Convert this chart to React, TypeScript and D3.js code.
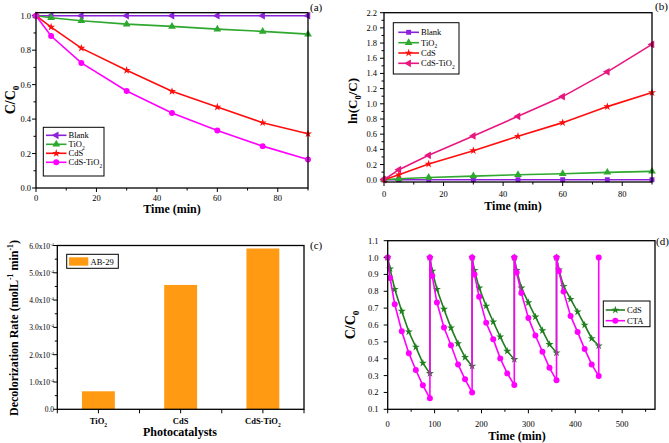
import React from 'react';
import * as d3 from 'd3';

const FONT = '"Liberation Serif", "Times New Roman", Times, serif';

// ---------- Panel (a): C/C0 vs time ----------
const timeA = [0, 5, 15, 30, 45, 60, 75, 90];
const blankA = [1.0, 1.0, 1.0, 1.0, 1.0, 1.0, 1.0, 1.0];
const tio2A = [1.0, 0.988, 0.971, 0.951, 0.938, 0.922, 0.909, 0.893];
const cdsA = [1.0, 0.934, 0.812, 0.683, 0.561, 0.47, 0.379, 0.315];
const cdsTio2A = [1.0, 0.882, 0.726, 0.563, 0.435, 0.334, 0.243, 0.165];
const ticksA_x = [0, 20, 40, 60, 80];
const ticksA_y = [0.0, 0.2, 0.4, 0.6, 0.8, 1.0];

// ---------- Panel (b): ln(C0/C) vs time ----------
const blankB = [0, 0, 0, 0, 0, 0, 0, 0];
const tio2B = [0, 0.013, 0.03, 0.048, 0.066, 0.079, 0.097, 0.11];
const cdsB = [0, 0.066, 0.207, 0.383, 0.572, 0.752, 0.963, 1.148];
const cdsTio2B = [0, 0.132, 0.321, 0.576, 0.836, 1.095, 1.421, 1.782];
const ticksB_y = [0.0, 0.2, 0.4, 0.6, 0.8, 1.0, 1.2, 1.4, 1.6, 1.8, 2.0, 2.2];

// ---------- Panel (c): decolorization rate ----------
const catsC = ['TiO2', 'CdS', 'CdS-TiO2'];
const ratesC = [6.6e-5, 4.555e-4, 5.89e-4];
const ticksC_y = [0, 1e-4, 2e-4, 3e-4, 4e-4, 5e-4, 6e-4];
const ticksC_labels = ['0.0', '1.0', '2.0', '3.0', '4.0', '5.0', '6.0'];

// ---------- Panel (d): recycling ----------
const timeD = [
  0, 5, 15, 30, 45, 60, 75, 90,
  90, 95, 105, 120, 135, 150, 165, 180,
  180, 185, 195, 210, 225, 240, 255, 270,
  270, 275, 285, 300, 315, 330, 345, 360,
  360, 365, 375, 390, 405, 420, 435, 450,
  450,
];
const ctaD = [
  1.0, 0.879, 0.723, 0.563, 0.433, 0.333, 0.242, 0.165,
  1.0, 0.89, 0.733, 0.585, 0.48, 0.366, 0.278, 0.2,
  1.0, 0.9, 0.767, 0.613, 0.516, 0.402, 0.313, 0.244,
  1.0, 0.911, 0.79, 0.642, 0.538, 0.441, 0.346, 0.272,
  1.0, 0.92, 0.798, 0.654, 0.558, 0.457, 0.366, 0.297,
  1.0,
];
const timeD_cds = [
  0, 5, 15, 30, 45, 60, 75, 90,
  90, 95, 105, 120, 135, 150, 165, 180,
  180, 185, 195, 210, 225, 240, 255, 270,
  270, 275, 285, 300, 315, 330, 345, 360,
  360, 365, 375, 390, 405, 420, 435, 450,
];
const cdsD = [
  1.0, 0.934, 0.812, 0.682, 0.56, 0.469, 0.374, 0.313,
  1.0, 0.92, 0.812, 0.694, 0.583, 0.49, 0.408, 0.356,
  1.0, 0.924, 0.82, 0.713, 0.619, 0.53, 0.445, 0.396,
  1.0, 0.924, 0.82, 0.733, 0.648, 0.567, 0.485, 0.435,
  1.0, 0.928, 0.83, 0.753, 0.678, 0.6, 0.52, 0.477,
];
const ticksD_x = [0, 100, 200, 300, 400, 500];
const ticksD_y = [0.1, 0.2, 0.3, 0.4, 0.5, 0.6, 0.7, 0.8, 0.9, 1.0, 1.1];

const PURPLE = '#8B22D9';
const GREEN = '#2EA82E';
const RED = '#FF0D0D';
const MAGENTA = '#FF00FF';
const PINK = '#E8177F';
const DKGREEN = '#1F7F1F';
const ORANGE = '#FF9A12';

type Part = { t: string; s?: 'sub' | 'sup' };

function Rich({ parts, fs, ...rest }: { parts: Part[]; fs: number; [k: string]: any }) {
  let cur = 0;
  return (
    <text fontSize={fs} fontFamily={FONT} {...rest}>
      {parts.map((p, i) => {
        const target = p.s === 'sub' ? fs * 0.3 : p.s === 'sup' ? -fs * 0.4 : 0;
        const dy = target - cur;
        cur = target;
        return (
          <tspan key={i} dy={dy} fontSize={p.s ? fs * 0.65 : fs}>
            {p.t}
          </tspan>
        );
      })}
    </text>
  );
}

function nameParts(n: string): Part[] {
  if (n.endsWith('TiO2')) return [{ t: n.slice(0, -1) }, { t: '2', s: 'sub' }];
  return [{ t: n }];
}

type Sym = 'square' | 'triUp' | 'triLeft' | 'star' | 'circle';
function marker(sym: Sym, x: number, y: number, color: string, key?: any) {
  const typeMap: any = {
    square: d3.symbolSquare,
    triUp: d3.symbolTriangle,
    triLeft: d3.symbolTriangle,
    star: d3.symbolStar,
    circle: d3.symbolCircle,
  };
  const size = sym === 'star' ? 20 : sym === 'circle' ? 28 : sym === 'square' ? 24 : 26;
  const p = d3.symbol().type(typeMap[sym]).size(size)() as string;
  const rot = sym === 'triLeft' ? -90 : 0;
  return <path key={key} d={p} transform={`translate(${x},${y}) rotate(${rot})`} fill={color} />;
}

type Series = { name: string; xs: number[]; ys: number[]; color: string; sym: Sym };

function LineSeries({ s, x, y, lw }: { s: Series; x: any; y: any; lw: number }) {
  const pts: [number, number][] = s.xs.map((v, i) => [x(v), y(s.ys[i])]);
  const line = d3.line()(pts) as string;
  return (
    <g>
      <path d={line} fill="none" stroke={s.color} strokeWidth={lw} />
      {pts.map((p, i) => marker(s.sym, p[0], p[1], s.color, i))}
    </g>
  );
}

function Frame({ x0, x1, y0, y1 }: any) {
  return <rect x={x0} y={y0} width={x1 - x0} height={y1 - y0} fill="none" stroke="#000" strokeWidth={1.3} />;
}

function XTicks({ x, yb, major, minor, labels, labelY, fs = 8.5 }: any) {
  return (
    <g>
      {minor.map((v: number, i: number) => (
        <line key={'m' + i} x1={x(v)} x2={x(v)} y1={yb} y2={yb + 2.5} stroke="#000" strokeWidth={1} />
      ))}
      {major.map((v: number, i: number) => (
        <g key={'M' + i}>
          <line x1={x(v)} x2={x(v)} y1={yb} y2={yb + 4} stroke="#000" strokeWidth={1} />
          {labels && (
            <text x={x(v)} y={labelY} textAnchor="middle" fontSize={fs} fontFamily={FONT}>
              {labels[i]}
            </text>
          )}
        </g>
      ))}
    </g>
  );
}

function YTicks({ y, xl, major, minor, labels, labelX, fs = 8.5 }: any) {
  return (
    <g>
      {minor.map((v: number, i: number) => (
        <line key={'m' + i} x1={xl} x2={xl - 2.5} y1={y(v)} y2={y(v)} stroke="#000" strokeWidth={1} />
      ))}
      {major.map((v: number, i: number) => (
        <g key={'M' + i}>
          <line x1={xl} x2={xl - 4} y1={y(v)} y2={y(v)} stroke="#000" strokeWidth={1} />
          {labels && (
            <text x={labelX} y={y(v) + 3} textAnchor="end" fontSize={fs} fontFamily={FONT}>
              {labels[i]}
            </text>
          )}
        </g>
      ))}
    </g>
  );
}

function Legend({ box, items, rows, lx0, lx1, tx, fs = 8.5 }: any) {
  return (
    <g>
      <rect x={box[0]} y={box[1]} width={box[2] - box[0]} height={box[3] - box[1]} fill="#fff" stroke="#000" strokeWidth={1} />
      {items.map((s: Series, i: number) => (
        <g key={i}>
          <line x1={lx0} x2={lx1} y1={rows[i]} y2={rows[i]} stroke={s.color} strokeWidth={1.6} />
          {marker(s.sym, (lx0 + lx1) / 2, rows[i], s.color)}
          <Rich parts={nameParts(s.name)} fs={fs} x={tx} y={rows[i] + 3} />
        </g>
      ))}
    </g>
  );
}

const range = (a: number, b: number, st: number) => d3.range(a, b + st / 2, st);

export default function App() {
  // Panel A
  const xA = d3.scaleLinear().domain([0, 90]).range([36, 308]);
  const yA = d3.scaleLinear().domain([0, 1.0175]).range([188, 12.7]);
  const seriesA: Series[] = [
    { name: 'Blank', xs: timeA, ys: blankA, color: PURPLE, sym: 'triLeft' },
    { name: 'TiO2', xs: timeA, ys: tio2A, color: GREEN, sym: 'triUp' },
    { name: 'CdS', xs: timeA, ys: cdsA, color: RED, sym: 'star' },
    { name: 'CdS-TiO2', xs: timeA, ys: cdsTio2A, color: MAGENTA, sym: 'circle' },
  ];

  // Panel B
  const xB = d3.scaleLinear().domain([0, 90]).range([384, 652]);
  const yB = d3.scaleLinear().domain([-0.03, 2.2]).range([182, 12.7]);
  const seriesB: Series[] = [
    { name: 'Blank', xs: timeA, ys: blankB, color: PURPLE, sym: 'square' },
    { name: 'TiO2', xs: timeA, ys: tio2B, color: GREEN, sym: 'triUp' },
    { name: 'CdS', xs: timeA, ys: cdsB, color: RED, sym: 'star' },
    { name: 'CdS-TiO2', xs: timeA, ys: cdsTio2B, color: PINK, sym: 'triLeft' },
  ];

  // Panel C
  const xC = d3.scaleLinear().domain([0.5, 3.5]).range([57.3, 304]);
  const yC = d3.scaleLinear().domain([0, 6e-4]).range([409.3, 245.5]);

  // Panel D
  const xD = d3.scaleLinear().domain([0, 570]).range([387.7, 655]);
  const yD = d3.scaleLinear().domain([0.1, 1.1]).range([409.3, 240.7]);
  const seriesD: Series[] = [
    { name: 'CdS', xs: timeD_cds, ys: cdsD, color: DKGREEN, sym: 'star' },
    { name: 'CTA', xs: timeD, ys: ctaD, color: MAGENTA, sym: 'circle' },
  ];

  const fmt1 = d3.format('.1f');

  return (
    <svg width={669} height={443} style={{ position: 'absolute', left: 0, top: 0, background: '#fff' }}>
      <rect x={0} y={0} width={669} height={443} fill="#fff" />

      {/* ---------- (a) ---------- */}
      <g>
        <XTicks x={xA} yb={188} major={ticksA_x} minor={range(10, 90, 20)} labels={ticksA_x.map(String)} labelY={201} />
        <YTicks y={yA} xl={36} major={ticksA_y} minor={range(0.1, 0.9, 0.2)} labels={ticksA_y.map(fmt1)} labelX={31} />
        {seriesA.map((s, i) => (
          <LineSeries key={i} s={s} x={xA} y={yA} lw={1.6} />
        ))}
        <Frame x0={36} x1={308} y0={12.7} y1={188} />
        <Legend box={[43.3, 127.3, 104, 176]} items={seriesA} rows={[135.3, 144.3, 153.3, 162.3]} lx0={46} lx1={66.5} tx={68.5} />
        <text x={172} y={213} textAnchor="middle" fontSize={12} fontWeight="bold" fontFamily={FONT}>
          Time (min)
        </text>
        <Rich parts={[{ t: 'C/C' }, { t: '0', s: 'sub' }]} fs={14} fontWeight="bold" textAnchor="middle" transform="translate(15,100) rotate(-90)" />
        <text x={310} y={11} fontSize={11} fontFamily={FONT}>(a)</text>
      </g>

      {/* ---------- (b) ---------- */}
      <g>
        <XTicks x={xB} yb={182} major={ticksA_x} minor={range(10, 90, 20)} labels={ticksA_x.map(String)} labelY={197} />
        <YTicks y={yB} xl={384} major={ticksB_y} minor={range(0.1, 2.1, 0.2)} labels={ticksB_y.map(fmt1)} labelX={377} />
        {seriesB.map((s, i) => (
          <LineSeries key={i} s={s} x={xB} y={yB} lw={1.6} />
        ))}
        <Frame x0={384} x1={652} y0={12.7} y1={182} />
        <Legend box={[393.3, 22.7, 459, 74]} items={seriesB} rows={[32.3, 42.7, 53, 63.3]} lx0={398.3} lx1={419} tx={421} />
        <text x={513} y={210} textAnchor="middle" fontSize={12} fontWeight="bold" fontFamily={FONT}>
          Time (min)
        </text>
        <Rich
          parts={[{ t: 'ln(C' }, { t: '0', s: 'sub' }, { t: '/C)' }]}
          fs={13}
          fontWeight="bold"
          textAnchor="middle"
          transform="translate(357,101) rotate(-90)"
        />
        <text x={655} y={10} fontSize={11} fontFamily={FONT}>(b)</text>
      </g>

      {/* ---------- (c) ---------- */}
      <g>
        {catsC.map((c, i) => (
          <rect key={i} x={xC(i + 1 - 0.2)} y={yC(ratesC[i])} width={xC(i + 1.2) - xC(i + 0.8)} height={yC(0) - yC(ratesC[i])} fill={ORANGE} />
        ))}
        <XTicks x={xC} yb={409.3} major={range(0.5, 3.5, 0.5)} minor={[]} />
        {catsC.map((c, i) => (
          <Rich key={i} parts={nameParts(c)} fs={8.5} fontWeight="bold" textAnchor="middle" x={xC(i + 1)} y={424} />
        ))}
        <YTicks y={yC} xl={57.3} major={ticksC_y} minor={range(0.5e-4, 5.5e-4, 1e-4)} />
        {ticksC_y.map((v, i) => (
          <Rich
            key={i}
            parts={i === 0 ? [{ t: '0.0' }] : [{ t: ticksC_labels[i] + 'x10' }, { t: '-4', s: 'sup' }]}
            fs={7.5}
            textAnchor="end"
            x={54}
            y={yC(v) + 3}
          />
        ))}
        <Frame x0={57.3} x1={304} y0={245.5} y1={409.3} />
        <rect x={66.7} y={254.3} width={51.6} height={14} fill="#fff" stroke="#000" strokeWidth={1} />
        <rect x={69} y={257.3} width={19.3} height={8.4} fill={ORANGE} />
        <text x={90.5} y={264.5} fontSize={8.5} fontFamily={FONT}>AB-29</text>
        <text x={180} y={436} textAnchor="middle" fontSize={12} fontWeight="bold" fontFamily={FONT}>
          Photocatalysts
        </text>
        <Rich
          parts={[{ t: 'Decolorization Rate (molL' }, { t: '-1', s: 'sup' }, { t: ' min' }, { t: '-1', s: 'sup' }, { t: ')' }]}
          fs={12}
          fontWeight="bold"
          textAnchor="middle"
          transform="translate(18,328) rotate(-90)"
        />
        <text x={310} y={249} fontSize={11} fontFamily={FONT}>(c)</text>
      </g>

      {/* ---------- (d) ---------- */}
      <g>
        <XTicks x={xD} yb={409.3} major={ticksD_x} minor={range(50, 550, 100)} labels={ticksD_x.map(String)} labelY={427} />
        <YTicks y={yD} xl={387.7} major={ticksD_y} minor={[]} labels={ticksD_y.map(fmt1)} labelX={378.5} />
        {seriesD.map((s, i) => (
          <LineSeries key={i} s={s} x={xD} y={yD} lw={1.6} />
        ))}
        <Frame x0={387.7} x1={655} y0={240.7} y1={409.3} />
        <Legend box={[603.3, 301, 650, 326.7]} items={seriesD} rows={[310, 320.7]} lx0={605.7} lx1={625} tx={627} />
        <text x={517} y={440} textAnchor="middle" fontSize={12} fontWeight="bold" fontFamily={FONT}>
          Time (min)
        </text>
        <Rich parts={[{ t: 'C/C' }, { t: '0', s: 'sub' }]} fs={14} fontWeight="bold" textAnchor="middle" transform="translate(355,325) rotate(-90)" />
        <text x={656} y={245} fontSize={11} fontFamily={FONT}>(d)</text>
      </g>
    </svg>
  );
}
